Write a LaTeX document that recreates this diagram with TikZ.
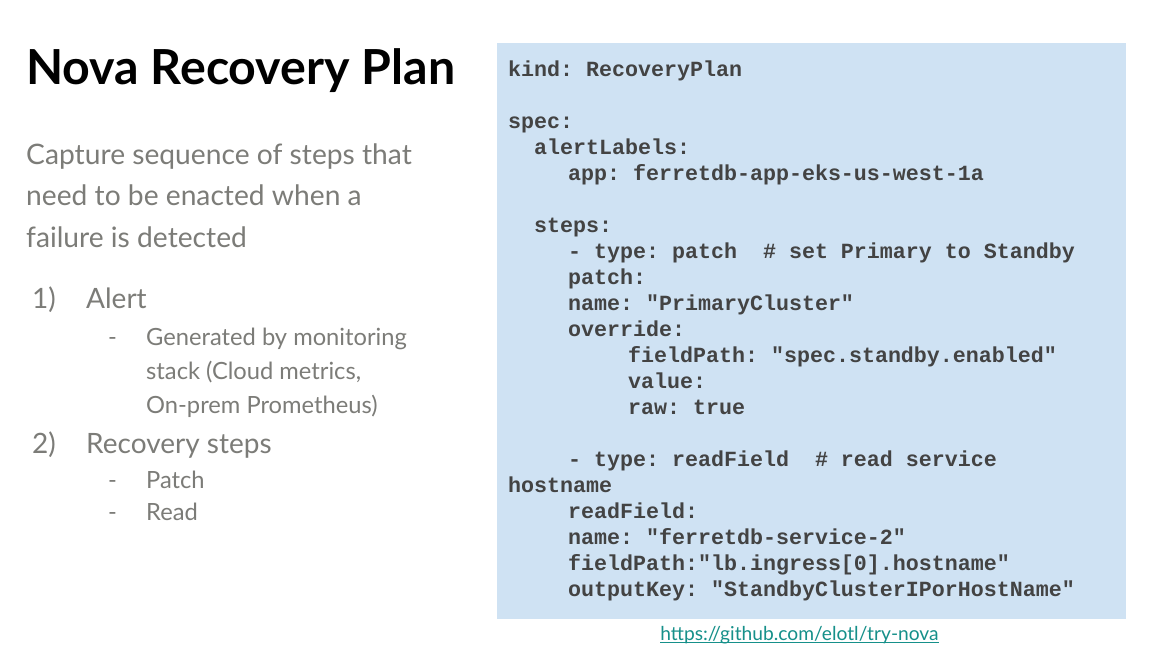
\documentclass[tikz,border=0pt]{standalone}
\usepackage{fontspec}
\setmainfont{Lato}
\setmonofont{Liberation Mono}
\newfontfamily\titlefont{Lato}
\definecolor{panelblue}{HTML}{CFE2F3}
\definecolor{bodygrey}{HTML}{7C7C78}
\definecolor{codegrey}{HTML}{434343}
\definecolor{linkteal}{HTML}{16908A}
\tikzset{body/.style={anchor=base west,inner sep=0pt,text=bodygrey,font=\fontsize{28.2}{32}\selectfont},
item/.style={anchor=base west,inner sep=0pt,text=bodygrey,font=\fontsize{28}{32}\selectfont},
subitem/.style={anchor=base west,inner sep=0pt,text=bodygrey,font=\fontsize{23.7}{27}\selectfont},
code/.style={anchor=base west,inner sep=0pt,text=codegrey,font=\ttfamily\bfseries\fontsize{21.65}{26}\selectfont}}
\begin{document}
\begin{tikzpicture}[x=1pt,y=-1pt]
\useasboundingbox (0,0) rectangle (1162,648);
\fill[white] (0,0) rectangle (1162,648);
\node[draw=none,fill=panelblue,minimum width=629pt,minimum height=576pt,inner sep=0pt,anchor=north west] (panel) at (497,43) {};
\node[anchor=base west,inner sep=0pt,text=black,font=\titlefont\bfseries\fontsize{48.3}{54}\selectfont] (title) at (26,84) {Nova Recovery Plan};
\node[body] (intro1) at (26,164) {Capture sequence of steps that};
\node[body] (intro2) at (26,205) {need to be enacted when a};
\node[body] (intro3) at (26,247) {failure is detected};
\node[item] (num1) at (32,308) {1)};
\node[item] (alert) at (86,308) {Alert};
\node[subitem] (dash1) at (108,345) {-};
\node[subitem] (gen1) at (146,345) {Generated by monitoring};
\node[subitem] (gen2) at (146,379) {stack (Cloud metrics,};
\node[subitem] (gen3) at (146,413) {On-prem Prometheus)};
\node[item] (num2) at (32,453) {2)};
\node[item] (steps) at (86,453) {Recovery steps};
\node[subitem] (dash2) at (108,488) {-};
\node[subitem] (patch) at (146,488) {Patch};
\node[subitem] (dash3) at (108,520) {-};
\node[subitem] (read) at (146,520) {Read};
% yaml listing
\foreach \ypos/\xpos/\txt in {76/508/{kind: RecoveryPlan},128/508/{spec:},154/534/{alertLabels:},180/568/{app: ferretdb-app-eks-us-west-1a},232/534/{steps:},258/568/{- type: patch~~\# set Primary to Standby},284/568/{patch:},310/568/{name: "PrimaryCluster"},336/568/{override:},362/628/{fieldPath: "spec.standby.enabled"},388/628/{value:},414/628/{raw: true},466/568/{- type: readField~~\# read service},492/508/{hostname},518/568/{readField:},544/568/{name: "ferretdb-service-2"},570/568/{fieldPath:"lb.ingress[0].hostname"},596/568/{outputKey: "StandbyClusterIPorHostName"}}
\node[code] at (\xpos,\ypos) {\txt};
\node[anchor=base,inner sep=0pt,text=linkteal,font=\fontsize{19.2}{22}\selectfont] (link) at (799.5,640) {https://github.com/elotl/try-nova};
\draw[linkteal,line width=0.8pt] ([yshift=-2.5pt]link.base west) -- ([yshift=-2.5pt]link.base east);
\end{tikzpicture}
\end{document}
